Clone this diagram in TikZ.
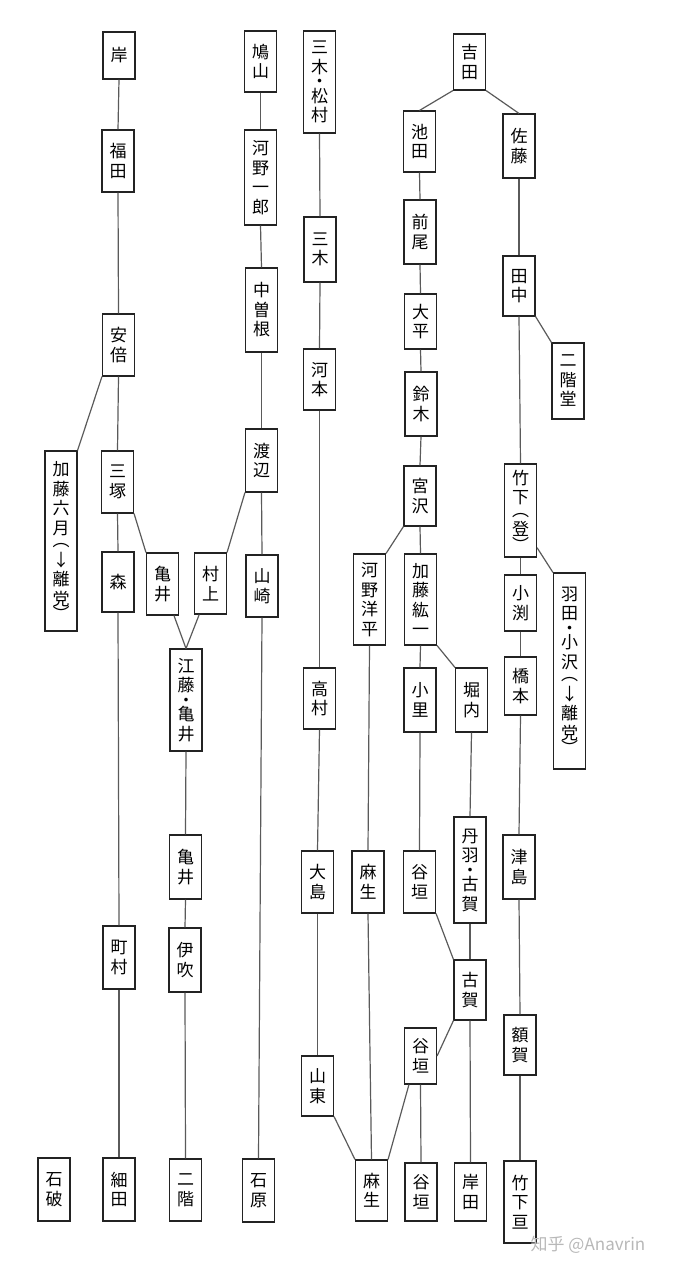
\documentclass[tikz,border=0pt]{standalone}
\usepackage{fontspec}
\newfontfamily\jpfont{Noto Sans CJK JP}
\definecolor{linegray}{RGB}{90,90,90}
\definecolor{boxblack}{RGB}{35,35,35}

\begin{document}
\begin{tikzpicture}[x=1pt, y=-1pt,
    pbox/.style={draw=boxblack, line width=1.1pt, fill=white, minimum width=32pt,
                 inner sep=0pt, align=center,
                 font=\jpfont\fontsize{17}{19.5}\selectfont},
    link/.style={draw=linegray, line width=1.2pt}]
  \useasboundingbox (0,0) rectangle (673,1273);
  % Leaders, one box each (name/x/y/height/text)
  \foreach \nm/\x/\y/\h/\txt in {
    kishi/119/55.5/47/岸,
    fukuda/118/161/62/福\\田,
    abe/118.5/345/62/安\\倍,
    katoM/61/541/180/加\\藤\\六\\月\\[-7pt]︵\\↓\\離\\党\\[-4pt]︶,
    mitsuzuka/117.5/482/62/三\\塚,
    mori/118/582/60/森,
    machimura/119/957.5/63/町\\村,
    hosoda/119/1189.5/63/細\\田,
    ishiba/54/1189.5/63/石\\破,
    kamei1/162.5/584/62/亀\\井,
    murakami/210.5/583.5/61/村\\上,
    etokamei/186/700/102/江\\藤\\[-5pt]・\\[-5pt]亀\\井,
    kamei2/185.5/867/64/亀\\井,
    ibuki/185/960/64/伊\\吹,
    nikai/185.5/1190/62/二\\階,
    hatoyama/260.5/61.5/61/鳩\\山,
    konoI/260.5/177.5/95/河\\野\\一\\郎,
    nakasone/261.5/310/84/中\\曽\\根,
    watanabe/261.5/460.5/63/渡\\辺,
    yamasaki/262/586/62/山\\崎,
    ishihara/258.5/1190.5/63/石\\原,
    mikimatsu/319.5/82/102/三\\木\\[-5pt]・\\[-5pt]松\\村,
    miki/320/249.5/65/三\\木,
    komoto/319.5/379.5/61/河\\本,
    komura/319.5/698.5/61/高\\村,
    oshima/317.5/882/62/大\\島,
    santo/317.5/1086/60/山\\東,
    konoY/369.5/599.5/91/河\\野\\洋\\平,
    aso1/368/882/62/麻\\生,
    aso2/371.5/1190.5/61/麻\\生,
    yoshida/469.5/62/56/吉\\田,
    ikeda/419.5/141.5/61/池\\田,
    maeo/420/232/64/前\\尾,
    ohira/420.5/321.5/55/大\\平,
    suzuki/421/404/64/鈴\\木,
    miyazawa/420/496/60/宮\\沢,
    katoK/420.5/599.5/91/加\\藤\\紘\\一,
    kozato/420/700/64/小\\里,
    horiuchi/471.5/700/64/堀\\内,
    tanigaki1/419.5/882/62/谷\\垣,
    niwakoga/470/870/106/丹\\羽\\[-5pt]・\\[-5pt]古\\賀,
    koga/470/990/60/古\\賀,
    tanigaki2/420.5/1056/56/谷\\垣,
    tanigaki3/421/1192/58/谷\\垣,
    kishida/470.5/1192/58/岸\\田,
    sato/519/146/64/佐\\藤,
    tanaka/519/286/60/田\\中,
    nikaido/568/381/76/二\\階\\堂,
    takeshitaN/520.5/510.5/93/竹\\下\\[-7pt]︵\\登\\[-4pt]︶,
    obuchi/520.5/603/56/小\\渕,
    hataozawa/569.5/671/196/羽\\田\\[-5pt]・\\[-5pt]小\\沢\\[-7pt]︵\\↓\\離\\党\\[-4pt]︶,
    hashimoto/520.5/686/58/橋\\本,
    tsushima/519/867/64/津\\島,
    nukaga/520/1045/60/額\\賀,
    takeshitaW/520/1202/82/竹\\下\\亘
  }{
    \node[pbox, minimum height=\h] (\nm) at (\x,\y) {\txt};
  }
  % Straight successions
  \foreach \a/\b in {kishi/fukuda, fukuda/abe, abe/mitsuzuka, mitsuzuka/mori,
      mori/machimura, machimura/hosoda,
      hatoyama/konoI, konoI/nakasone, nakasone/watanabe, watanabe/yamasaki,
      yamasaki/ishihara, etokamei/kamei2, kamei2/ibuki, ibuki/nikai,
      mikimatsu/miki, miki/komoto, komoto/komura, komura/oshima, oshima/santo,
      konoY/aso1, aso1/aso2,
      ikeda/maeo, maeo/ohira, ohira/suzuki, suzuki/miyazawa, miyazawa/katoK,
      katoK/kozato, kozato/tanigaki1, horiuchi/niwakoga, niwakoga/koga,
      koga/kishida, tanigaki2/tanigaki3,
      sato/tanaka, tanaka/takeshitaN, takeshitaN/obuchi, obuchi/hashimoto,
      hashimoto/tsushima, tsushima/nukaga, nukaga/takeshitaW}
    \draw[link] (\a.south) -- (\b.north);
  % Splits and merges
  \draw[link] (yoshida.south west) -- (ikeda.north);
  \draw[link] (yoshida.south east) -- (sato.north);
  \draw[link] (tanaka.south east) -- (nikaido.north west);
  \draw[link] (abe.south west) -- (katoM.north east);
  \draw[link] (mitsuzuka.south east) -- (kamei1.north west);
  \draw[link] (watanabe.south west) -- (murakami.north east);
  \draw[link] (kamei1.-70) -- (etokamei.north);
  \draw[link] (murakami.-110) -- (etokamei.north);
  \draw[link] (miyazawa.south west) -- (konoY.north east);
  \draw[link] (katoK.south east) -- (horiuchi.north west);
  \draw[link] (takeshitaN.-66) -- (hataozawa.north west);
  \draw[link] (tanigaki1.south east) -- (koga.north west);
  \draw[link] (koga.south west) -- (tanigaki2.east);
  \draw[link] (tanigaki2.-112) -- (aso2.north east);
  \draw[link] (santo.south east) -- (aso2.north west);
  % Watermark
  \node[text=black!28, font=\jpfont\fontsize{17}{20}\selectfont] (mark)
    at (588,1245) {知乎 @Anavrin};
\end{tikzpicture}
\end{document}
